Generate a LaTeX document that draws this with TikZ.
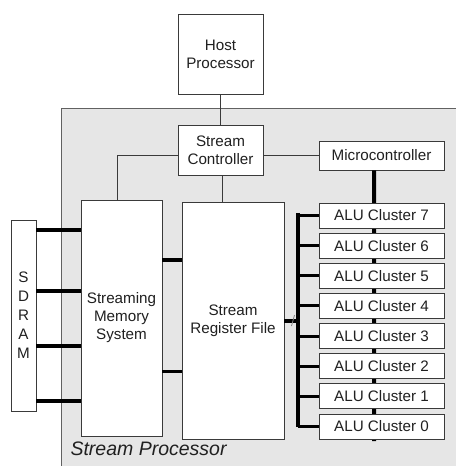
\documentclass[tikz,border=0pt]{standalone}
\usepackage{fontspec}
\setmainfont{Liberation Sans}
\definecolor{procgray}{HTML}{E6E6E6}
\definecolor{edgegray}{HTML}{3A3A3A}
\definecolor{txt}{HTML}{202020}
\begin{document}
\begin{tikzpicture}[x=1bp,y=-1bp,
  box/.style={draw=edgegray,line width=0.9bp,fill=white,inner sep=0pt,align=center,
    text=txt,font=\fontsize{15.2bp}{18bp}\selectfont},
  thin/.style={draw=edgegray,line width=0.9bp},
  bus/.style={draw=black,line width=4bp},
  stub/.style={draw=black,line width=3bp}]
\useasboundingbox (0,0) rectangle (456,466);
% stream processor region
\fill[procgray] (61,108) rectangle (456,466);
\draw[thin,draw=edgegray!80] (61,466) -- (61,108) -- (456,108);
\node[anchor=base west,text=txt,font=\fontsize{19.5bp}{22bp}\selectfont\itshape] (splabel) at (67,455) {Stream Processor};
% nodes
\node[box,minimum width=85bp,minimum height=80bp] (host) at (220.5,54) {Host\\Processor};
\node[box,minimum width=85bp,minimum height=50bp] (ctrl) at (220.5,150) {Stream\\Controller};
\node[box,minimum width=125bp,minimum height=29bp] (micro) at (381.5,155.5) {Microcontroller};
\node[box,minimum width=81bp,minimum height=236bp] (sms) at (121.5,318) {Streaming\\Memory\\System};
\node[box,minimum width=102bp,minimum height=237bp] (srf) at (233,320.5) {Stream\\Register File};
\node[box,minimum width=25bp,minimum height=191bp,font=\fontsize{15.2bp}{19bp}\selectfont] (sdram) at (23.5,315.5) {S\\D\\R\\A\\M};
% microcontroller broadcast line (behind clusters)
\coordinate (mcend) at (374,441);
\draw[bus] ([xshift=-7.5bp]micro.south) -- (mcend);
\foreach \k in {0,...,7}{
  \node[box,minimum width=125bp,minimum height=25bp] (alu\k) at (381.5,{215.5+30.14*(7-\k)}) {ALU Cluster \k};
}
% control connectors
\draw[thin] (host.south) -- (ctrl.north);
\draw[thin] (ctrl.west |- micro.west) -| ([xshift=-4.5bp]sms.north);
\draw[thin] (ctrl.east |- micro.west) -- (micro.west);
\draw[thin] ([xshift=1.5bp]ctrl.south) -- ([xshift=1.5bp]ctrl.south |- srf.north);
% SDRAM to SMS
\foreach \y in {230,291,346,401}{
  \draw[bus,line width=3.6bp] (sdram.east |- 0,\y) -- (sms.west |- 0,\y);
}
% SMS to SRF
\draw[bus] (sms.east |- 0,260) -- (srf.west |- 0,260);
\draw[stub] (sms.east |- 0,371) -- (srf.west |- 0,371);
% SRF to cluster bus
\coordinate (btop) at (298,213);
\coordinate (bbot) at (298,427);
\draw[bus,line width=4.5bp] (btop) -- (bbot);
\coordinate (bmid) at (298,321);
\draw[bus] (srf.east |- bmid) -- (bmid);
\coordinate (sl1) at (291.5,326);
\coordinate (sl2) at (294.5,315);
\draw[draw=gray,line width=0.8bp] (sl1) -- (sl2);
\foreach \k in {0,...,7}{
  \draw[stub] (btop |- alu\k.west) -- (alu\k.west);
}
\end{tikzpicture}
\end{document}
